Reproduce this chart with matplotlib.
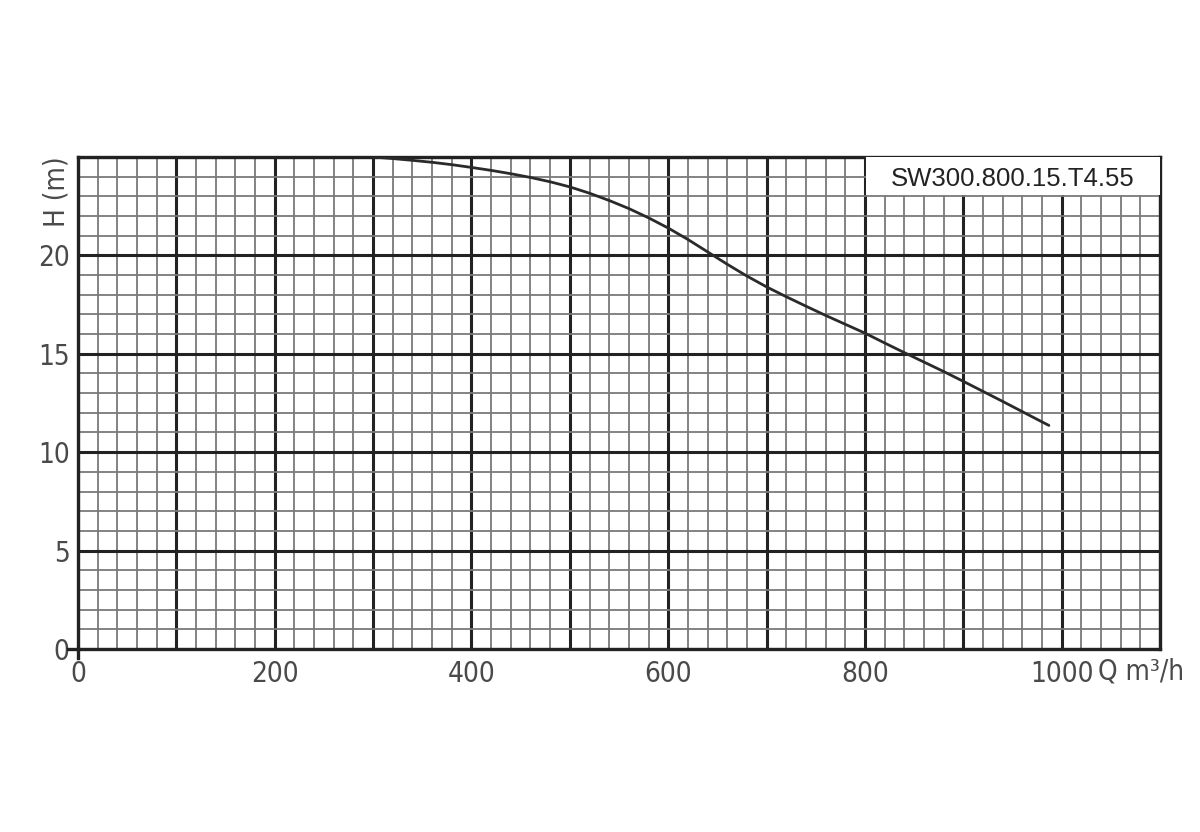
import matplotlib
matplotlib.use('Agg')
import matplotlib.pyplot as plt
from matplotlib.patches import Rectangle
import numpy as np

# pump curve (Q in m3/h, H in m)
flow = [300, 320, 340, 360, 380, 400, 420, 440, 460, 480, 500, 520, 540, 560, 580,
        600, 620, 640, 660, 680, 700, 720, 740, 760, 780, 800, 820, 840, 860, 880,
        900, 920, 940, 960, 980, 987]
head = [25.0, 24.92, 24.83, 24.73, 24.61, 24.47, 24.32, 24.15, 23.96, 23.74, 23.48,
        23.16, 22.79, 22.38, 21.91, 21.39, 20.81, 20.18, 19.55, 18.95, 18.4, 17.9,
        17.42, 16.95, 16.5, 16.05, 15.55, 15.06, 14.58, 14.1, 13.6, 13.09, 12.58,
        12.06, 11.54, 11.36]

x_labels = ['0', '', '200', '', '400', '', '600', '', '800', '', '1000', '']
y_labels = ['0', '5', '10', '15', '20', '']
model = 'SW300.800.15.T4.55'

tick_font = dict(family=['Liberation Sans Narrow', 'DejaVu Sans'], stretch='condensed',
                 size=20, color='#4a4a4a')

fig = plt.figure(figsize=(12, 8.32), dpi=100)
ax = fig.add_axes([0.065, 0.22, 0.9017, 0.5913])
ax.set_xlim(0, 1100)
ax.set_ylim(0, 25)

ax.set_xticks(np.arange(0, 1101, 100))
ax.set_xticks(np.arange(0, 1101, 20), minor=True)
ax.set_yticks(np.arange(0, 26, 5))
ax.set_yticks(np.arange(0, 26, 1), minor=True)
ax.set_xticklabels(x_labels, fontdict=tick_font)
ax.set_yticklabels(y_labels, fontdict=tick_font)
ax.tick_params(which='both', length=0)
ax.tick_params(axis='x', pad=8)
ax.tick_params(axis='y', pad=6)

ax.grid(which='minor', color='#7a7a7a', lw=1.3)
ax.grid(which='major', color='#222222', lw=2.2)
ax.set_axisbelow(True)
for s in ax.spines.values():
    s.set_color('#222222')
    s.set_linewidth(2.4)

# small axis extensions at the origin
ax.plot([-0.009, 0], [0, 0], transform=ax.transAxes, color='#222222', lw=2.4, clip_on=False)
ax.plot([0, 0], [-0.018, 0], transform=ax.transAxes, color='#222222', lw=2.4, clip_on=False)

ax.plot(flow, head, color='#2a2a2a', lw=2.0, zorder=3, solid_capstyle='round')

# model name box in the top-right corner
ax.add_patch(Rectangle((0.728, 0.922), 0.272, 0.078, transform=ax.transAxes,
                       facecolor='white', edgecolor='none', zorder=4))
ax.text(0.864, 0.955, model, transform=ax.transAxes, ha='center', va='center',
        fontsize=18.5, family='Liberation Sans', color='#222222', zorder=5)

ax.text(-0.02, 0.93, 'H (m)', transform=ax.transAxes, rotation=90, ha='center', va='center',
        **tick_font)
ax.text(0.943, -0.046, 'Q m³/h', transform=ax.transAxes, ha='left', va='center',
        **tick_font)

fig.savefig('out.png', dpi=100)
